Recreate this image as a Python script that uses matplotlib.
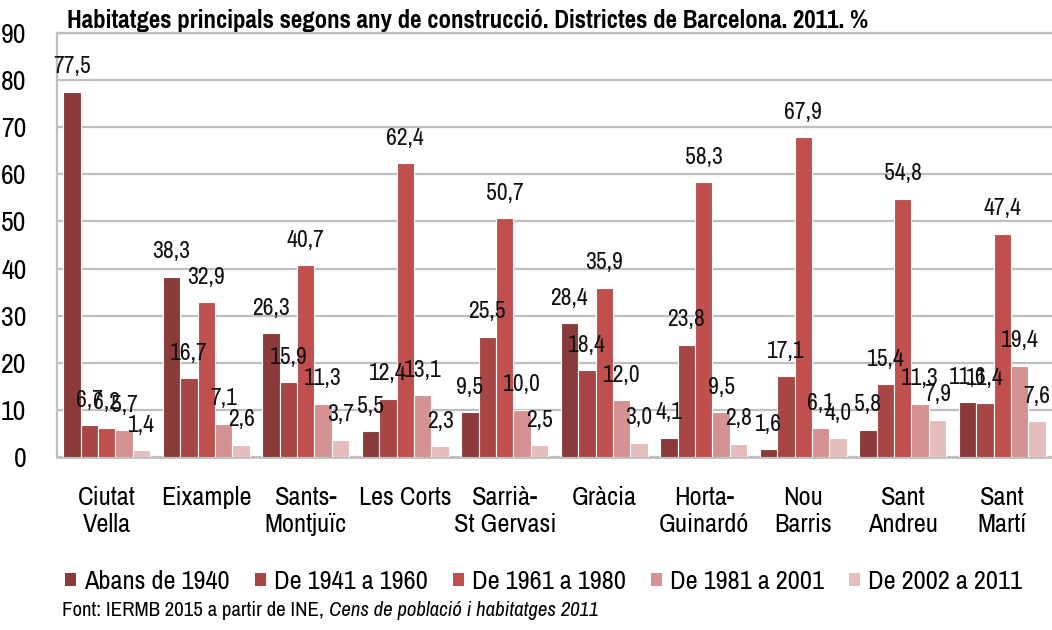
import matplotlib
matplotlib.use("Agg")
import matplotlib.pyplot as plt
import numpy as np
from matplotlib.patches import Patch

plt.rcParams['font.family'] = ['Archivo Narrow', 'Pragati Narrow', 'DejaVu Sans']

districts = ["Ciutat\nVella", "Eixample", "Sants-\nMontjuïc", "Les Corts", "Sarrià-\nSt Gervasi",
             "Gràcia", "Horta-\nGuinardó", "Nou\nBarris", "Sant\nAndreu", "Sant\nMartí"]
series_names = ["Abans de 1940", "De 1941 a 1960", "De 1961 a 1980", "De 1981 a 2001", "De 2002 a 2011"]
abans_1940 = [77.5, 38.3, 26.3, 5.5, 9.5, 28.4, 4.1, 1.6, 5.8, 11.6]
de_1941_1960 = [6.7, 16.7, 15.9, 12.4, 25.5, 18.4, 23.8, 17.1, 15.4, 11.4]
de_1961_1980 = [6.2, 32.9, 40.7, 62.4, 50.7, 35.9, 58.3, 67.9, 54.8, 47.4]
de_1981_2001 = [5.7, 7.1, 11.3, 13.1, 10.0, 12.0, 9.5, 6.1, 11.3, 19.4]
de_2002_2011 = [1.4, 2.6, 3.7, 2.3, 2.5, 3.0, 2.8, 4.0, 7.9, 7.6]
series = [abans_1940, de_1941_1960, de_1961_1980, de_1981_2001, de_2002_2011]
colors = ["#8B3A3A", "#A84545", "#C0504D", "#D59292", "#E6BDBD"]

fig = plt.figure(figsize=(10.52, 6.3), dpi=100)
ax = fig.add_axes([0.0542, 0.2746, 0.9458, 0.673])

n = len(series)
x = np.arange(len(districts))
bw = 0.175
for i, (vals, c) in enumerate(zip(series, colors)):
    pos = x + (i - (n - 1) / 2) * bw
    ax.bar(pos, vals, width=bw, color=c, edgecolor="white", linewidth=0.8, zorder=3)
    for xp, v in zip(pos, vals):
        ax.annotate(f"{v:.1f}".replace(".", ","), (xp, v), xytext=(0, 18),
                    textcoords="offset points", ha="center", va="center",
                    fontsize=17, color="#111111", zorder=4, annotation_clip=False)

ax.set_xlim(-0.5, len(districts) - 0.5)
ax.set_ylim(0, 90)
ax.set_yticks(range(0, 91, 10))
ax.yaxis.grid(True, color="#BFBFBF", linewidth=1.6, zorder=0)
ax.set_axisbelow(True)
ax.tick_params(axis="y", length=0, pad=22, labelsize=20)
ax.tick_params(axis="x", length=0, pad=21, labelsize=19)
ax.set_xticks(x)
ax.set_xticklabels(districts, linespacing=1.22)
ax.spines["right"].set_visible(False)
for s, lw in [("left", 1.6), ("top", 1.6), ("bottom", 2.0)]:
    ax.spines[s].set_color("#BFBFBF")
    ax.spines[s].set_linewidth(lw)

fig.text(0.064, 0.967, "Habitatges principals segons any de construcció. Districtes de Barcelona. 2011. %",
         fontsize=19.5, fontweight="bold", ha="left", va="center", family=["Pragati Narrow", "DejaVu Sans"])

handles = [Patch(facecolor=c, edgecolor="none") for c in colors]
fig.legend(handles, series_names, loc="center left", bbox_to_anchor=(0.052, 0.077), ncol=5,
           frameon=False, fontsize=19, handlelength=0.42, handleheight=0.42,
           handletextpad=0.3, columnspacing=0.95, borderaxespad=0.0)

t1 = fig.text(0.059, 0.031, "Font: IERMB 2015 a partir de INE, ", fontsize=15, ha="left", va="center")
fig.canvas.draw()
bb = t1.get_window_extent()
fig.text(bb.x1 / fig.bbox.width, 0.031, "Cens de població i habitatges 2011", fontsize=15,
         ha="left", va="center", style="italic")

fig.savefig("out.png", dpi=100)
